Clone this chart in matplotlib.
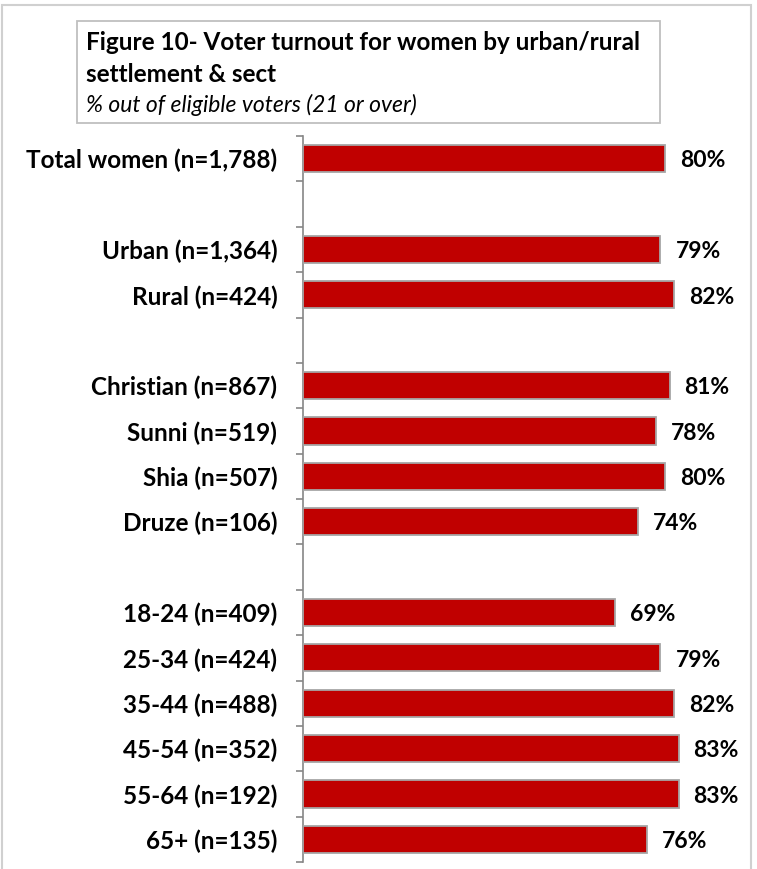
import numpy as np
import matplotlib.pyplot as plt
from matplotlib.patches import Rectangle

# Data
labels = ['Total women (n=1,788)', '',
          'Urban (n=1,364)', 'Rural (n=424)', '',
          'Christian (n=867)', 'Sunni (n=519)', 'Shia (n=507)', 'Druze (n=106)', '',
          '18-24 (n=409)', '25-34 (n=424)', '35-44 (n=488)', '45-54 (n=352)',
          '55-64 (n=192)', '65+ (n=135)']
values = [80, None,
          79, 82, None,
          81, 78, 80, 74, None,
          69, 79, 82, 83, 83, 76]

W, H = 757, 869
fig = plt.figure(figsize=(W / 100, H / 100), dpi=100)
plt.rcParams['font.family'] = ['Lato', 'DejaVu Sans']

# axes placement in pixels
ax_l, ax_r, ax_t, ax_b = 303, 748, 136, 862
ax = fig.add_axes([ax_l / W, 1 - ax_b / H, (ax_r - ax_l) / W, (ax_b - ax_t) / H])

px_per_unit = 4.525  # pixels per percent
ax.set_xlim(0, (ax_r - ax_l) / px_per_unit)
ax.set_ylim(len(labels) - 0.5, -0.5)

pos = np.arange(len(labels))
for i, v in enumerate(values):
    if v is None:
        continue
    ax.barh(i, v, height=0.6, color='#C00000', edgecolor='#A6A6A6', linewidth=1.3, zorder=3)
    ax.text(v + 15 / px_per_unit, i + 0.05, f'{v}%', va='center', ha='left',
            fontsize=16.5, fontweight='bold', color='black')

# ticks: boundaries as major, labels at centres as minor
ax.set_yticks(np.arange(-0.5, len(labels), 1.0))
ax.set_yticklabels([])
ax.set_yticks(pos, minor=True)
ax.set_yticklabels(labels, minor=True, fontsize=17.5, fontweight='bold')
ax.tick_params(axis='y', which='major', length=5, width=1.2, color='#868686', direction='out')
ax.tick_params(axis='y', which='minor', length=0, pad=18.5)
ax.set_xticks([])

for s in ['top', 'right', 'bottom']:
    ax.spines[s].set_visible(False)
ax.spines['left'].set_color('#868686')
ax.spines['left'].set_linewidth(1.2)

# outer chart border
fig.patches.append(Rectangle((2 / W, -0.02), (751 - 2) / W, 1.02 - 5 / H,
                             transform=fig.transFigure, fill=False,
                             edgecolor='#D0D0D0', linewidth=1.5))

# title box
fig.patches.append(Rectangle((77 / W, 1 - 123 / H), (660 - 77) / W, (123 - 21) / H,
                             transform=fig.transFigure, fill=False,
                             edgecolor='#BFBFBF', linewidth=1.3))
fig.text(86 / W, 1 - 50 / H, 'Figure 10- Voter turnout for women by urban/rural',
         fontsize=17.5, fontweight='bold', va='baseline', ha='left')
fig.text(86 / W, 1 - 82 / H, 'settlement & sect',
         fontsize=17.5, fontweight='bold', va='baseline', ha='left')
fig.text(86 / W, 1 - 112 / H, '% out of eligible voters (21 or over)',
         fontsize=16.5, style='italic', va='baseline', ha='left')

fig.savefig('out.png', dpi=100)
